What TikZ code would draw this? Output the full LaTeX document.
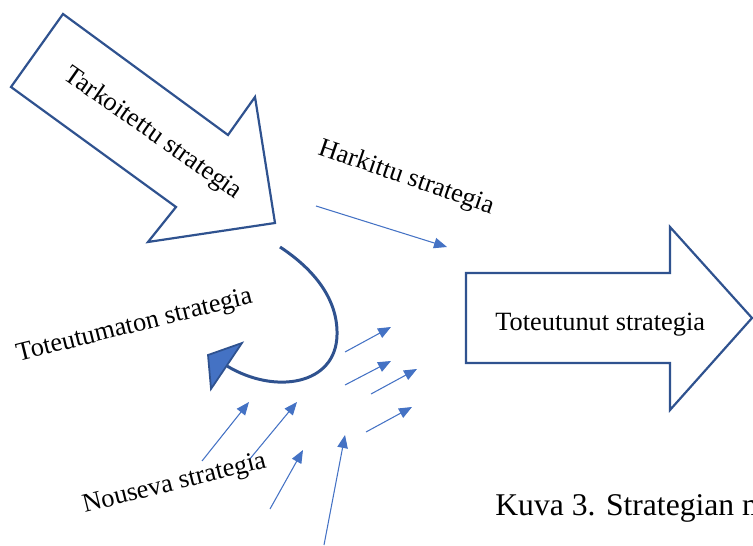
\documentclass[tikz,border=0pt]{standalone}
\usepackage{fontspec}
\setmainfont{Liberation Serif}
\usepackage{tikz}
\usetikzlibrary{arrows.meta}
\definecolor{clrEdge}{HTML}{2F528F}
\definecolor{clrFlow}{HTML}{4472C4}
\tikzset{
  blockarrow/.style={draw=clrEdge, line width=1.25pt, line join=miter, fill=white},
  flow/.style={-{Triangle[length=0.26cm, width=0.21cm]}, line width=0.6pt, clrFlow},
  bendline/.style={draw=clrEdge, line width=1.7pt},
  bendhead/.style={draw=clrEdge, fill=clrFlow, line width=1pt, line join=miter},
  lab/.style={inner sep=0pt, font=\fontsize{15}{18}\selectfont},
  capt/.style={inner sep=0pt, anchor=base west, font=\fontsize{18}{22}\selectfont},
}

\begin{document}
\begin{tikzpicture}[x=0.02cm, y=-0.02cm]
% Pixelraster der Vorlage: 753 x 546, y nach unten
\useasboundingbox (0,0) rectangle (753,546);
\clip (0,0) rectangle (753,546);

% ── Tarkoitettu strategia ───────────────────────────────────────────────
\draw[blockarrow] (63,14) -- (228,135) -- (255,97) -- (275,223)
  -- (148,242) -- (176,207) -- (11,87) -- cycle;
\node[lab, anchor=base, rotate=-35] (tark) at (149,139) {Tarkoitettu strategia};

% ── Toteutunut strategia ────────────────────────────────────────────────
\draw[blockarrow] (466,273) -- (670,273) -- (670,227) -- (752,318)
  -- (670,410) -- (670,363) -- (466,363) -- cycle;
\node[lab, anchor=base west] (tot) at (495,331) {Toteutunut strategia};

% ── Harkittu strategia ──────────────────────────────────────────────────
\coordinate (hA) at (316,206);
\coordinate (hB) at (447,247);
\draw[flow] (hA) -- (hB);
\node[lab, anchor=base, rotate=-19] (hark) at (404,184) {Harkittu strategia};

% ── Toteutumaton strategia ──────────────────────────────────────────────
\coordinate (uA) at (280,247);
\coordinate (uB) at (227,366);
\draw[bendline] (uA) .. controls (315,270) and (338,300) .. (337,335)
  .. controls (336,385) and (275,395) .. (uB);
\draw[bendhead] (208,355) -- (242,343) -- (211,389) -- cycle;
\node[lab, anchor=base, rotate=14] (totm) at (136,332) {Toteutumaton strategia};

% ── Nouseva strategia ───────────────────────────────────────────────────
\foreach \i/\sx/\sy/\ex/\ey in {1/345/352/391/327, 2/345/385/391/361,
    3/371/394/417/369, 4/366/432/412/407, 5/202/461/249/402,
    6/249/460/297/402, 7/270/509/303/450, 8/324/545/345/435}{
  \coordinate (ns\i) at (\sx,\sy);
  \coordinate (ne\i) at (\ex,\ey);
  \draw[flow] (ns\i) -- (ne\i);
}
\node[lab, anchor=base, rotate=14] (nous) at (176,490) {Nouseva strategia};

% ── Bildunterschrift ────────────────────────────────────────────────────
\node[capt] (kuva) at (495,515) {Kuva 3. Strategian m};

\end{tikzpicture}
\end{document}
